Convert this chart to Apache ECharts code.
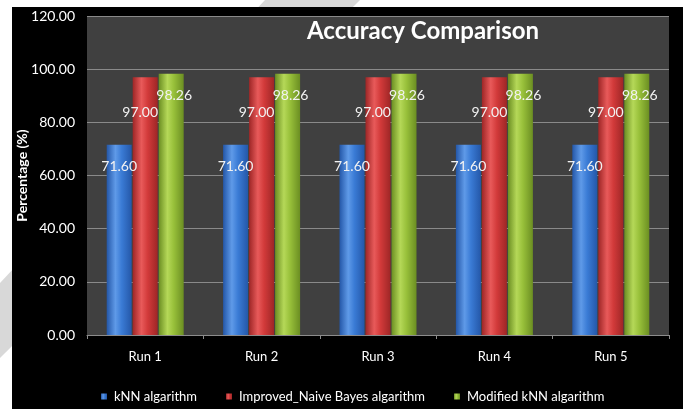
<!DOCTYPE html>
<html><head><meta charset="utf-8">
<script src="https://cdn.jsdelivr.net/npm/echarts@6/dist/echarts.min.js"></script>
<style>html,body{margin:0;padding:0;background:#fff;}#c{width:687px;height:409px;}</style>
</head><body><div id="c"></div>
<script>
var categories = ['Run 1','Run 2','Run 3','Run 4','Run 5'];
var seriesNames = ['kNN algarithm','Improved_Naive Bayes algarithm','Modified kNN algarithm'];
var knn = [71.60, 71.60, 71.60, 71.60, 71.60];
var improvedNB = [97.00, 97.00, 97.00, 97.00, 97.00];
var modifiedKnn = [98.26, 98.26, 98.26, 98.26, 98.26];
var yTicks = [0, 20, 40, 60, 80, 100, 120];

var FONT = 'Lato';
function grad(dark, mid, light) {
  return new echarts.graphic.LinearGradient(0, 0, 1, 0, [
    {offset: 0, color: dark}, {offset: 0.35, color: light}, {offset: 0.6, color: mid}, {offset: 1, color: dark}
  ]);
}
var chart = echarts.init(document.getElementById('c'), null, {renderer: 'canvas'});
function mkSeries(name, data, colors, offY, offX) {
  return {
    name: name, type: 'bar', data: data, barWidth: 25, barGap: '4%',
    itemStyle: {color: grad(colors[0], colors[1], colors[2])},
    label: {show: true, position: 'insideTop', offset: [offX, offY], color: '#f2f2f2',
      fontFamily: FONT, fontSize: 14, formatter: function (p) { return p.value.toFixed(2); }}
  };
}
chart.setOption({
  backgroundColor: '#ffffff',
  animation: false,
  graphic: [
    {type: 'polygon', z: -10, shape: {points: [[265, 0], [360, 0], [0, 358], [0, 283]]}, style: {fill: '#d8d8d8'}},
    {type: 'rect', z: -5, shape: {x: 12, y: 7, width: 671, height: 402}, style: {fill: '#000000'}}
  ],
  title: {text: 'Accuracy Comparison', left: 418, top: 14, textAlign: 'center',
    textStyle: {color: '#ffffff', fontFamily: FONT, fontWeight: 'bold', fontSize: 24}},
  legend: {top: 385, left: 96, itemWidth: 6, itemHeight: 6, itemGap: 29,
    textStyle: {color: '#ffffff', fontFamily: FONT, fontSize: 13, padding: [0, 0, 0, 2]},
    data: seriesNames.map(function (n) { return {name: n, icon: 'rect'}; })},
  grid: {left: 87, right: 18, top: 16, bottom: 74, show: true, backgroundColor: '#404040', borderWidth: 0},
  xAxis: {type: 'category', data: categories,
    axisLine: {lineStyle: {color: '#8c8c8c'}},
    axisTick: {show: true, length: 4, lineStyle: {color: '#8c8c8c'}},
    axisLabel: {color: '#ffffff', fontFamily: FONT, fontSize: 13, margin: 15}},
  yAxis: {type: 'value', min: yTicks[0], max: yTicks[yTicks.length - 1], interval: 20,
    name: 'Percentage (%)', nameLocation: 'middle', nameGap: 58, nameRotate: 90, nameMoveOverlap: false,
    nameTextStyle: {color: '#ffffff', fontFamily: FONT, fontWeight: 'bold', fontSize: 14},
    axisLine: {show: false}, axisTick: {show: false},
    splitLine: {lineStyle: {color: '#8a8a8a', width: 1}},
    axisLabel: {color: '#ffffff', fontFamily: FONT, fontSize: 14, margin: 12,
      formatter: function (v) { return v.toFixed(2); }}},
  series: [
    mkSeries(seriesNames[0], knn, ['#2457a8', '#3a7bd5', '#5f9ae8'], 10, 0),
    mkSeries(seriesNames[1], improvedNB, ['#9e2626', '#d23a3a', '#e85a5a'], 23, -5),
    mkSeries(seriesNames[2], modifiedKnn, ['#6b8e22', '#98c03a', '#b5d858'], 10, 3)
  ]
});
</script></body></html>
